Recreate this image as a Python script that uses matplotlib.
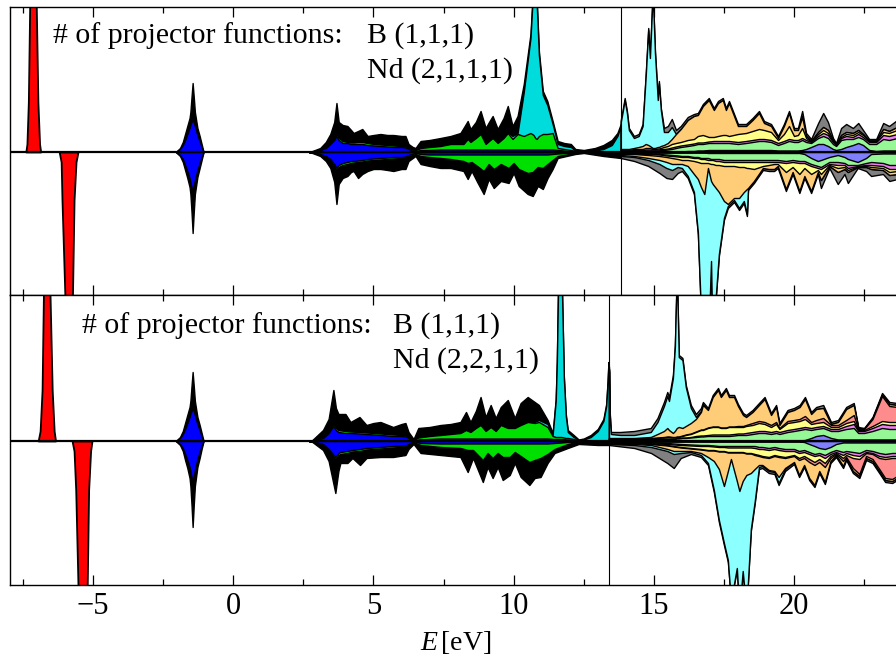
import numpy as np
import matplotlib.pyplot as plt
from matplotlib.ticker import MultipleLocator

plt.rcParams['font.family'] = ['Liberation Serif', 'DejaVu Serif']
plt.rcParams['mathtext.fontset'] = 'custom'
plt.rcParams['mathtext.rm'] = 'Liberation Serif'
plt.rcParams['mathtext.it'] = 'Liberation Serif:italic'

# Fermi levels (eV)
ef_top = 13.82
ef_bot = 13.40

# ---- top panel: B (1,1,1), Nd (2,1,1,1) ----
# Nd 5s-like peaks, spin up / spin down  [E, dos]
top_red_up = [[-7.40, 0], [-7.36, 8], [-7.31, 50], [-7.26, 150], [-7.14, 400],
              [-7.03, 150], [-6.97, 50], [-6.91, 8], [-6.87, 0]]
top_red_dn = [[-6.21, 0], [-6.14, -10], [-6.11, -48], [-6.00, -150], [-5.88, -300],
              [-5.74, -150], [-5.68, -48], [-5.61, -10], [-5.54, 0]]
# B 2s peak  [E, blue, black]
top_bs_up = [[-2.05, 0, 0], [-1.90, 3, 4], [-1.80, 7, 10], [-1.72, 12, 18], [-1.64, 18, 26],
             [-1.56, 24, 34], [-1.53, 27, 40], [-1.49, 30, 55], [-1.45, 32, 69],
             [-1.41, 30, 55], [-1.37, 26, 40], [-1.28, 17, 24], [-1.20, 11, 16],
             [-1.13, 5, 8], [-1.06, 0, 0]]
top_bs_dn = [[-2.05, 0, 0], [-1.90, -3, -4], [-1.80, -7, -10], [-1.72, -13, -18], [-1.64, -19, -26],
             [-1.56, -26, -35], [-1.53, -30, -42], [-1.49, -35, -60], [-1.45, -38, -81],
             [-1.41, -34, -60], [-1.37, -28, -42], [-1.28, -18, -25], [-1.20, -11, -16],
             [-1.13, -5, -8], [-1.06, 0, 0]]
# valence band  [E, blue, green, cyan, black] (stacked)
top_vb_up = [
    [2.70, 0, 0, 0, 0], [2.82, 0.3, 0.5, 0.5, 1], [3.10, 2, 2.5, 2.5, 4], [3.30, 4, 5, 5, 10],
    [3.46, 8, 9, 9, 18], [3.60, 12, 13, 13, 30], [3.68, 16, 18, 18, 49], [3.76, 12, 14, 14, 30],
    [3.90, 9, 11, 11, 27], [4.07, 9, 10, 10, 26], [4.20, 8, 9.5, 9.5, 22], [4.29, 8, 9.5, 9.5, 19],
    [4.45, 8, 10, 10, 21], [4.60, 8, 10, 10, 23], [4.79, 7, 9, 9, 16], [5.00, 6.5, 8, 8, 17],
    [5.25, 6, 7.5, 7.5, 18], [5.50, 5.5, 7, 7, 17], [5.71, 5, 6.5, 6.5, 17], [6.00, 5, 6, 6, 16],
    [6.14, 4.5, 5.5, 5.5, 16], [6.25, 3, 4, 4, 8], [6.40, 1.5, 2.5, 2.5, 5], [6.50, 1, 2, 2, 4],
    [6.60, 1.5, 3, 3, 8], [6.68, 2, 4, 4, 11], [7.00, 2, 5, 5, 12], [7.39, 2.5, 6, 6, 14],
    [7.75, 2.5, 8, 8, 16], [8.10, 2.5, 8, 8, 19], [8.21, 2.5, 8, 8.5, 24], [8.36, 2.5, 13, 13.5, 31],
    [8.46, 2.5, 10, 10.5, 23], [8.65, 2.5, 14, 14.5, 30], [8.82, 2.5, 18, 18.5, 41],
    [9.00, 2.5, 8, 8.5, 24], [9.12, 2.5, 11, 11.5, 30], [9.25, 2.5, 14, 14.5, 36],
    [9.43, 2.5, 9, 9.5, 23], [9.64, 2.5, 14, 15, 34], [9.79, 2.5, 19, 20, 46],
    [9.96, 2.5, 13, 16, 26], [10.14, 2.5, 18, 19, 36], [10.36, 2.5, 16, 60, 68],
    [10.60, 2.5, 19, 114, 118], [10.71, 2.5, 17, 170, 174], [10.77, 2.5, 14, 190, 194],
    [10.82, 2.5, 13, 150, 154], [10.90, 2.5, 16, 97, 101], [11.04, 2.5, 18, 57, 61],
    [11.20, 2.5, 18, 47, 51], [11.39, 2.5, 19, 28, 31], [11.57, 2, 4, 8, 11],
    [11.80, 1.5, 3, 6, 9], [12.04, 1, 2, 5, 8], [12.20, 0.5, 1, 1.5, 3], [12.50, 0.3, 0.5, 0.8, 2],
    [12.90, 0.3, 0.5, 1.5, 4], [13.20, 0.3, 0.5, 3, 7], [13.50, 0.3, 0.5, 7, 12],
    [13.70, 0.3, 0.5, 16, 19], [13.82, 0.3, 0.5, 26, 28]]
top_vb_dn = [
    [2.70, 0, 0, 0, 0], [2.82, -0.3, -0.5, -0.5, -1], [3.10, -2, -2.5, -2.5, -4], [3.30, -4, -5, -5, -9],
    [3.46, -7, -8, -8, -16], [3.60, -12, -14, -14, -30], [3.68, -16, -18, -18, -52],
    [3.76, -13, -15, -15, -32], [3.90, -11, -13, -13, -26], [4.07, -10, -12, -12, -24],
    [4.20, -9, -11, -11, -20], [4.29, -9, -10.5, -10.5, -19], [4.45, -8.5, -10, -10, -26],
    [4.60, -8, -9.5, -9.5, -22], [4.79, -7, -8.5, -8.5, -19], [5.00, -6.5, -8, -8, -17],
    [5.25, -6, -7.5, -7.5, -17], [5.50, -5.5, -7, -7, -18], [5.71, -5, -6.5, -6.5, -19],
    [6.00, -5, -6, -6, -17], [6.14, -4.5, -5.5, -5.5, -17], [6.25, -3, -4, -4, -9],
    [6.50, -1, -2, -2, -4], [6.68, -2, -4, -4, -12], [7.00, -2.5, -5, -5, -14],
    [7.39, -2.5, -6, -6, -16], [7.75, -2.5, -7, -7, -16], [8.21, -2.5, -9, -9, -19],
    [8.36, -2.5, -11, -11, -27], [8.50, -2.5, -10, -10, -19], [8.70, -2.5, -14, -14, -30],
    [8.93, -2.5, -19, -19, -42], [9.11, -2.5, -12, -12, -27], [9.29, -2.5, -17, -17, -36],
    [9.54, -2.5, -12, -12, -29], [9.82, -2.5, -16, -16, -31], [10.00, -2.5, -11, -11, -21],
    [10.18, -2.5, -17, -17, -34], [10.50, -2.5, -21, -21, -42], [10.68, -2.5, -20, -20, -44],
    [10.86, -2.5, -15, -15, -34], [11.04, -2.5, -16, -16, -37], [11.21, -2.5, -12, -12, -26],
    [11.39, -2, -8, -8, -17], [11.57, -1.5, -4, -4, -6], [12.20, -0.5, -1, -1, -2],
    [12.50, -0.3, -0.5, -0.5, -1], [13.20, -0.3, -0.5, -1, -4], [13.82, -0.3, -0.5, -1.5, -6]]
# unoccupied states  [E, lavender, green, magenta, yellow, orange, cyan, gray] (stacked)
top_cb_up = [
    [13.82, 0.5, 1, 1.5, 2, 3, 30, 32], [13.88, 0.5, 1, 1.5, 2, 3, 39, 41],
    [13.96, 0.5, 1, 1.5, 2, 3, 52, 54], [14.04, 0.5, 1, 1.5, 2, 3, 39, 41],
    [14.11, 0.5, 1, 1.5, 2, 3, 22, 24], [14.29, 0.5, 1, 2, 3, 4, 14, 16],
    [14.46, 0.5, 1, 2, 3, 5, 16, 18], [14.60, 0.5, 1.5, 2, 3, 6, 26, 28],
    [14.71, 0.5, 1.5, 2.5, 4, 8, 76, 78], [14.80, 0.5, 1.5, 2.5, 4, 7, 122, 124],
    [14.86, 0.5, 1.5, 2.5, 4, 6, 94, 96], [14.96, 0.5, 1.5, 2.5, 3, 4, 160, 162],
    [15.04, 0.5, 1.5, 2.5, 3, 4, 99, 101], [15.14, 0.5, 1.5, 2.5, 3.5, 5, 52, 54],
    [15.18, 0.5, 1.5, 2.5, 3.5, 5, 69, 71], [15.25, 0.5, 2, 3, 4, 6, 42, 44],
    [15.36, 0.5, 2, 3, 5, 7, 20, 24], [15.50, 0.5, 2.5, 3.5, 6, 9, 20, 26],
    [15.64, 0.5, 3, 4.5, 8, 13, 25, 33], [15.79, 0.5, 4, 5.5, 9, 18, 18, 22],
    [15.96, 0.5, 5, 6.5, 10, 23, 23, 26], [16.21, 1, 6, 7.5, 12, 32, 32, 35],
    [16.43, 1, 7, 8.5, 13, 36, 36, 38], [16.57, 1.5, 8, 9.5, 16, 37, 37, 39],
    [16.75, 1.5, 8, 9.5, 17, 46, 46, 48], [16.96, 2, 9, 10.5, 15, 52, 52, 54],
    [17.14, 2, 9, 11, 15, 42, 42, 44], [17.29, 2, 9, 11, 16, 49, 49, 51],
    [17.46, 2, 9, 11, 17, 52, 52, 54], [17.57, 2, 9, 11, 17, 42, 42, 44],
    [17.68, 2, 9, 11, 16, 49, 49, 51], [18.00, 2, 8, 10, 18, 26, 26, 28],
    [18.29, 2, 9, 11, 19, 26, 26, 28], [18.52, 2, 10, 12, 21, 32, 32, 34],
    [18.75, 2, 11, 13, 23, 39, 39, 41], [18.93, 2, 11, 13, 22, 29, 29, 31],
    [19.18, 2, 10, 12, 20, 26, 26, 28], [19.43, 1.5, 7, 9, 12, 14, 14, 16],
    [19.64, 1.5, 9, 11, 18, 26, 26, 28], [19.82, 1.5, 11, 13, 26, 39, 39, 41],
    [20.00, 1.5, 10, 12, 16, 22, 22, 24], [20.14, 1.5, 10, 12, 17, 22, 22, 24],
    [20.29, 2, 12, 14, 24, 35, 36, 41], [20.43, 3, 10, 12, 14, 16, 16, 19],
    [20.61, 5, 9, 10, 10.5, 11, 11, 13], [20.86, 8, 14, 16, 18, 20, 20, 29],
    [21.04, 8, 16, 19, 22, 25, 25, 39], [21.21, 6, 14, 17, 19, 22, 22, 30],
    [21.39, 3, 8, 10, 11, 12, 12, 14], [21.50, 2, 6, 7, 7.5, 8, 8, 9],
    [21.68, 3, 12, 14, 15, 17, 17, 24], [21.86, 5, 13, 16, 18, 20, 20, 28],
    [22.10, 7, 13, 15, 17, 19, 19, 24], [22.29, 9, 15, 18, 20, 22, 22, 29],
    [22.46, 7, 13, 15, 17, 18, 18, 22], [22.68, 2, 8, 10, 11, 11.5, 11.5, 13],
    [22.93, 1, 8, 10, 11, 11.5, 11.5, 13], [23.18, 1.5, 13, 17, 20, 23, 23, 29],
    [23.39, 1.5, 12, 16, 19, 21, 21, 26], [23.68, 1.5, 14, 18, 22, 25, 25, 32],
    [24.00, 1.5, 13, 17, 20, 23, 23, 30]]
top_cb_dn = [
    [13.82, 0.5, 1, 1.5, 2, 3, 4, 6], [14.30, 0.5, 1, 1.5, 2, 4, 5, 9],
    [14.80, 0.5, 1.5, 2, 3, 6, 8, 14], [15.20, 0.5, 2, 2.5, 4, 8, 12, 21],
    [15.45, 0.5, 2.5, 3.5, 5, 10, 16, 26], [15.65, 0.5, 3, 4, 6, 12, 18, 27],
    [15.85, 0.5, 3.5, 4.5, 7, 12, 15, 21], [16.00, 0.5, 4, 5, 8, 12, 16, 19],
    [16.21, 0.5, 4, 5, 8, 14, 24, 26], [16.43, 0.5, 5, 6, 9, 22, 40, 42],
    [16.57, 0.5, 5, 6, 10, 27, 80, 82], [16.68, 0.5, 6, 7, 11, 35, 160, 162],
    [16.80, 0.5, 6, 7, 11, 42, 200, 200], [16.93, 1, 6, 8, 11, 16, 200, 200],
    [17.04, 1, 7, 8, 12, 29, 109, 111], [17.10, 1, 7, 8, 12, 32, 200, 200],
    [17.21, 1, 7, 9, 13, 36, 144, 146], [17.32, 1, 7, 9, 13, 40, 102, 104],
    [17.50, 1, 8, 10, 14, 49, 66, 68], [17.64, 1, 8, 10, 14, 52, 54, 56],
    [17.86, 1, 8, 10, 14, 46, 48, 50], [18.04, 1, 8, 10, 15, 46, 56, 58],
    [18.21, 1, 8, 10, 15, 40, 49, 51], [18.32, 1, 8, 10, 16, 37, 62, 64],
    [18.36, 1, 8, 10, 16, 36, 36, 38], [18.57, 1, 8, 10, 17, 29, 29, 31],
    [18.89, 1, 8, 10, 14, 16, 16, 18], [19.10, 1, 8, 10, 13, 17, 17, 19],
    [19.29, 1, 8, 10, 12, 17, 17, 19], [19.42, 1, 8, 10, 12, 14, 14, 16],
    [19.71, 1, 9, 11, 20, 37, 37, 39], [19.95, 1, 8, 10, 15, 20, 20, 22],
    [20.19, 1, 9, 11, 22, 39, 39, 41], [20.37, 2, 9, 11, 16, 24, 24, 26],
    [20.61, 6, 12, 14, 22, 39, 39, 41], [20.85, 9, 14, 16, 18, 20, 20, 22],
    [20.96, 8, 15, 17, 22, 28, 28, 36], [21.26, 5, 10, 12, 13, 14, 14, 16],
    [21.56, 3, 10, 13, 16, 20, 20, 32], [21.80, 5, 11, 13, 15, 17, 17, 22],
    [21.92, 7, 13, 16, 18, 20, 20, 31], [22.27, 10, 13, 14, 14.5, 15, 15, 16],
    [22.57, 6, 11, 13, 14, 15, 15, 19], [22.75, 2, 10, 13, 15, 17, 17, 24],
    [23.17, 1.5, 11, 14, 16, 18, 18, 22], [23.40, 1.5, 13, 17, 20, 23, 23, 29],
    [23.68, 1.5, 13, 17, 19, 22, 22, 27], [24.00, 1.5, 12, 15, 18, 20, 20, 25]]

# ---- bottom panel: B (1,1,1), Nd (2,2,1,1) ----
bot_red_up = [[-6.96, 0], [-6.89, 10], [-6.82, 51], [-6.77, 150], [-6.66, 300],
              [-6.54, 150], [-6.46, 51], [-6.39, 10], [-6.34, 0]]
bot_red_dn = [[-5.75, 0], [-5.68, -10], [-5.62, -49], [-5.54, -144], [-5.38, -300],
              [-5.21, -144], [-5.16, -49], [-5.09, -10], [-5.04, 0]]
bot_bs_up = [[-2.05, 0, 0], [-1.90, 3, 4], [-1.80, 7, 10], [-1.72, 12, 18], [-1.64, 18, 26],
             [-1.56, 24, 34], [-1.53, 27, 40], [-1.49, 30, 55], [-1.45, 32, 69],
             [-1.41, 30, 55], [-1.37, 26, 40], [-1.28, 17, 24], [-1.20, 11, 16],
             [-1.13, 5, 8], [-1.06, 0, 0]]
bot_bs_dn = [[-2.05, 0, 0], [-1.90, -3, -4], [-1.80, -7, -10], [-1.72, -13, -19], [-1.64, -19, -27],
             [-1.56, -26, -37], [-1.53, -30, -45], [-1.49, -36, -64], [-1.45, -40, -86],
             [-1.41, -35, -64], [-1.37, -29, -45], [-1.28, -18, -26], [-1.20, -11, -17],
             [-1.13, -5, -8], [-1.06, 0, 0]]
bot_vb_up = [
    [2.70, 0, 0, 0, 0], [2.82, 0.3, 0.5, 0.5, 1], [3.20, 3, 4, 4, 11], [3.40, 8, 9, 9, 22],
    [3.57, 15, 17, 17, 51], [3.66, 11, 13, 13, 33], [3.75, 9, 11, 11, 27], [4.00, 8, 10, 10, 27],
    [4.18, 8, 9.5, 9.5, 19], [4.50, 7.5, 9, 9, 24], [4.75, 7, 8.5, 8.5, 16], [5.00, 6.5, 8, 8, 18],
    [5.25, 6, 7.5, 7.5, 19], [5.70, 5, 6.5, 6.5, 14], [6.00, 5, 6, 6, 17], [6.14, 4.5, 5.5, 5.5, 18],
    [6.25, 3, 4, 4, 9], [6.43, 0.5, 1, 1, 2], [6.60, 1.5, 3.5, 3.5, 13], [7.00, 2, 5, 5, 14],
    [7.39, 2.5, 6, 6, 16], [7.75, 2.5, 7, 7, 17], [8.10, 2.5, 8, 8, 19], [8.30, 2.5, 11, 11, 29],
    [8.46, 2.5, 9, 9, 19], [8.65, 2.5, 13, 13, 30], [8.82, 2.5, 16, 16, 44], [9.00, 2.5, 10, 10, 24],
    [9.18, 2.5, 14, 14, 36], [9.36, 2.5, 10, 10, 23], [9.54, 2.5, 16, 16, 34],
    [9.79, 2.5, 13, 13.5, 41], [10.04, 2.5, 13, 13.5, 23], [10.25, 2.5, 16, 16.5, 38],
    [10.50, 2.5, 19, 19.5, 44], [10.75, 2.5, 18, 19, 39], [10.90, 2.5, 19, 21, 36],
    [11.21, 2.5, 14, 17, 21], [11.39, 2, 5, 6, 8], [11.50, 2, 4, 40, 42], [11.54, 2, 4, 78, 80],
    [11.60, 2, 4, 180, 182], [11.70, 2, 4, 180, 182], [11.79, 2, 3.5, 63, 65],
    [11.86, 1.5, 3, 25, 27], [11.93, 1.5, 3, 9, 11], [12.14, 1, 2, 4, 6],
    [12.32, 0.3, 0.5, 0.8, 1.5], [12.50, 0.3, 0.5, 1.5, 2.5], [12.75, 0.3, 0.5, 4, 6],
    [13.00, 0.3, 0.5, 10, 12], [13.20, 0.3, 0.5, 20, 22], [13.30, 0.3, 0.5, 35, 37],
    [13.35, 0.3, 0.5, 58, 60], [13.38, 0.3, 0.5, 77, 79], [13.40, 0.3, 0.5, 72, 74]]
bot_vb_dn = [
    [2.70, 0, 0, 0, 0], [2.82, -0.3, -0.5, -0.5, -1], [3.20, -3, -4, -4, -9], [3.40, -8, -9, -9, -20],
    [3.64, -16, -18, -18, -52], [3.75, -12, -14, -14, -30], [3.82, -11, -13, -13, -22],
    [4.07, -10, -12, -12, -22], [4.25, -9, -10.5, -10.5, -17], [4.52, -8, -10, -10, -24],
    [4.75, -7, -8.5, -8.5, -17], [5.25, -6, -7.5, -7.5, -16], [5.70, -5, -6.5, -6.5, -16],
    [6.14, -4.5, -5.5, -5.5, -14], [6.25, -3, -4, -4, -8], [6.43, -0.5, -1, -1, -3],
    [6.68, -2, -4, -4, -12], [7.39, -2.5, -6, -6, -14], [8.10, -2.5, -7, -7, -16],
    [8.36, -2.5, -9, -9, -31], [8.55, -2.5, -9, -9, -17], [8.90, -2.5, -19, -19, -41],
    [9.07, -2.5, -12, -12, -26], [9.25, -2.5, -17, -17, -37], [9.43, -2.5, -12, -12, -26],
    [9.61, -2.5, -16, -16, -39], [9.86, -2.5, -16, -16, -34], [10.04, -2.5, -11, -11, -22],
    [10.25, -2.5, -15, -15, -36], [10.56, -2.5, -21, -21, -44], [10.75, -2.5, -19, -19, -37],
    [10.96, -2.5, -17, -17, -36], [11.21, -2.5, -13, -13, -22], [11.46, -2, -8, -8, -12],
    [11.93, -1, -3, -3, -7], [12.32, -0.3, -0.5, -1, -3], [13.00, -0.3, -0.5, -1.5, -4],
    [13.40, -0.3, -0.5, -2, -4]]
# [E, lavender, green, magenta, yellow, salmon, orange, cyan, gray] (stacked)
bot_cb_up = [
    [13.40, 0.5, 1, 1.5, 2, 2.5, 3, 70, 72], [13.43, 0.5, 1, 1.5, 2, 2.5, 3, 25, 27],
    [13.47, 0.5, 1, 1.5, 2, 2.5, 3, 7, 9], [13.80, 0.5, 1, 1.5, 2, 2.5, 3, 6, 9],
    [14.30, 0.5, 1, 1.5, 2, 2.5, 3, 6, 10], [14.89, 0.5, 1.5, 2, 2.5, 3, 4, 9, 13],
    [15.13, 0.5, 2, 2.5, 3, 3.5, 7, 19, 23], [15.36, 0.5, 2, 2.5, 3.5, 4, 10, 35, 39],
    [15.48, 0.5, 2, 2.5, 4, 4.5, 13, 45, 49], [15.54, 0.5, 2, 2.5, 4, 4.5, 11, 40, 44],
    [15.68, 0.5, 2, 2.5, 3.5, 4, 8, 63, 66], [15.75, 0.5, 2, 2.5, 3.5, 4, 10, 94, 96],
    [15.82, 0.5, 2.5, 3, 4, 4.5, 13, 170, 170], [15.89, 0.5, 2.5, 3, 4, 4.5, 14, 84, 86],
    [16.02, 0.5, 3, 3.5, 5, 5.5, 13, 81, 83], [16.14, 0.5, 3, 3.5, 6, 6.5, 15, 54, 56],
    [16.32, 0.5, 3.5, 4, 7, 7.5, 18, 33, 36], [16.50, 0.5, 4, 5, 9, 9.5, 22, 24, 27],
    [16.68, 0.5, 4.5, 5.5, 11, 11.5, 29, 30, 33], [16.75, 0.5, 4.5, 5.5, 11, 11.5, 36, 37, 39],
    [16.93, 0.5, 5, 6, 13, 13.5, 31, 31, 33], [17.10, 0.5, 5, 6.5, 14, 14.5, 44, 44, 46],
    [17.29, 0.5, 5, 6.5, 14, 14.5, 51, 51, 53], [17.39, 0.5, 5, 6.5, 13, 13.5, 44, 44, 46],
    [17.57, 0.5, 5, 6.5, 13, 13.5, 51, 51, 53], [17.68, 0.5, 5, 6.5, 14, 14.5, 44, 44, 46],
    [17.86, 0.5, 5.5, 7, 14, 14.5, 44, 44, 46], [18.00, 0.5, 6, 7.5, 14, 15, 35, 35, 37],
    [18.18, 0.5, 6, 7.5, 14, 15, 26, 26, 28], [18.29, 0.5, 6, 8, 15, 16, 24, 24, 26],
    [18.52, 0.5, 7, 9, 16, 18, 29, 29, 31], [18.75, 0.5, 8, 10, 18, 20, 36, 36, 38],
    [18.95, 0.5, 8, 10, 17, 19, 42, 42, 44], [19.18, 0.5, 7, 9, 14, 16, 26, 26, 28],
    [19.36, 0.5, 8, 10, 17, 19, 34, 34, 36], [19.48, 0.5, 7, 9, 12, 13, 16, 16, 18],
    [19.77, 0.5, 9, 11, 18, 20, 29, 29, 31], [20.00, 0.5, 10, 12, 19, 21, 31, 31, 33],
    [20.20, 0.5, 11, 13, 20, 22, 34, 34, 36], [20.39, 1, 12, 14, 22, 25, 42, 42, 44],
    [20.61, 3, 11, 13, 17, 19, 27, 27, 29], [20.79, 5, 12, 14, 18, 21, 32, 32, 34],
    [21.04, 6, 13, 15, 19, 23, 33, 33, 36], [21.32, 3, 10, 12, 14, 16, 17, 17, 19],
    [21.57, 1.5, 10, 12, 14, 16, 19, 19, 21], [21.86, 1.5, 12, 15, 18, 21, 32, 32, 34],
    [22.13, 1.5, 13, 17, 20, 26, 36, 36, 38], [22.29, 1.5, 8, 10, 11, 12, 13, 13, 14],
    [22.50, 1.5, 8, 10, 11, 12, 12.5, 12.5, 13], [22.80, 1.5, 10, 13, 15, 22, 23, 23, 24],
    [23.14, 1.5, 13, 17, 20, 45, 46.5, 46.5, 48], [23.40, 1.5, 12, 16, 19, 35, 37, 37, 39],
    [23.68, 1.5, 12, 16, 19, 34, 36, 36, 38], [24.00, 1.5, 12, 15, 18, 32, 34, 34, 36]]
bot_cb_dn = [
    [13.40, 0.5, 1, 1.5, 2, 2.2, 2.5, 3, 4], [14.30, 0.5, 1, 1.5, 2, 2.2, 3, 4, 7],
    [14.90, 0.5, 1.5, 2, 2.5, 3, 4, 6, 12], [15.48, 0.5, 2, 3, 4, 4.5, 8, 10, 22],
    [15.71, 0.5, 2.5, 3.5, 5, 5.5, 10, 13, 27], [15.96, 0.5, 3, 4, 6, 6.5, 10, 12, 17],
    [16.32, 0.5, 3.5, 4.5, 7, 7.5, 10, 11, 13], [16.68, 0.5, 4, 5, 8, 8.5, 12, 14, 16],
    [16.93, 0.5, 4, 5, 9, 9.5, 16, 22, 24], [17.14, 0.5, 4.5, 5.5, 9, 9.5, 20, 49, 51],
    [17.32, 0.5, 5, 6, 10, 10.5, 28, 79, 81], [17.50, 0.5, 5, 6, 10, 10.5, 45, 102, 104],
    [17.64, 0.5, 5, 6.5, 11, 11.5, 30, 119, 121], [17.75, 0.5, 5, 6.5, 11, 11.5, 18, 160, 160],
    [17.96, 0.5, 5, 6.5, 11, 11.5, 40, 127, 129], [18.05, 0.5, 5, 6.5, 11, 11.5, 50, 170, 170],
    [18.17, 0.5, 5, 6.5, 11, 11.5, 40, 130, 132], [18.30, 0.5, 5, 6.5, 12, 12.5, 34, 170, 170],
    [18.46, 0.5, 5, 6.5, 12, 12.5, 32, 88, 90], [18.60, 0.5, 5, 7, 13, 14, 28, 60, 62],
    [18.75, 0.5, 6, 8, 14, 15, 24, 26, 28], [18.87, 0.5, 6, 8, 15, 16, 24, 25, 27],
    [19.10, 0.5, 7, 9, 16, 17, 29, 30, 32], [19.30, 0.5, 6, 8, 14, 15, 30, 31, 33],
    [19.45, 0.5, 7, 9, 15, 16, 36, 42, 44], [19.68, 0.5, 8, 10, 16, 17, 27, 28, 30],
    [20.00, 0.5, 8, 10, 14, 15, 21, 21, 23], [20.18, 0.5, 10, 12, 17, 19, 34, 34, 36],
    [20.36, 1, 9, 11, 15, 17, 24, 24, 26], [20.54, 3, 11, 13, 18, 21, 37, 37, 39],
    [20.73, 5, 13, 15, 21, 24, 44, 44, 46], [20.90, 7, 12, 14, 18, 21, 30, 30, 32],
    [21.10, 8, 14, 17, 22, 26, 41, 41, 43], [21.30, 6, 11, 13, 15, 17, 20, 20, 22],
    [21.50, 3, 9, 11, 12, 13, 14, 14, 16], [21.75, 1.5, 11, 14, 17, 20, 25, 25, 27],
    [21.86, 1.5, 10, 12, 14, 16, 17, 17, 19], [22.10, 1.5, 11, 14, 17, 27, 30, 30, 32],
    [22.33, 1.5, 12, 15, 18, 33, 35, 35, 37], [22.57, 1.5, 9, 11, 12, 15, 17, 17, 19],
    [22.80, 1.5, 10, 12, 13, 18, 20, 20, 22], [23.04, 1.5, 12, 15, 17, 28, 30, 30, 32],
    [23.25, 1.5, 13, 16, 18, 37, 39, 39, 41], [23.50, 1.5, 12, 15, 17, 38, 40, 40, 42],
    [23.68, 1.5, 12, 15, 17, 35, 37, 37, 39], [24.00, 1.5, 11, 14, 16, 33, 35, 35, 37]]

red = ['#ff0000']
bs_cols = ['#0000ff', '#000000']
vb_cols = ['#0000ff', '#00e000', '#00dcdc', '#000000']
cb_cols_top = ['#8080ff', '#96f796', '#f080f0', '#ffff88', '#ffcc77', '#8cffff', '#808080']
cb_cols_bot = ['#8080ff', '#96f796', '#f080f0', '#ffff88', '#ff8c8c', '#ffcc77', '#8cffff', '#808080']


def draw_stack(ax, table, colors, lw=1.0, sign=1):
    t = np.asarray(table, dtype=float)
    e = t[:, 0]
    # outermost layer first, inner layers are painted over it
    for k in range(t.shape[1] - 1, 0, -1):
        ax.fill_between(e, 0, sign * t[:, k], facecolor=colors[k - 1],
                        edgecolor='k', linewidth=lw)


fig = plt.figure(figsize=(8.96, 6.61), dpi=100)
W, H = 896.0, 661.0
x0 = 10.4 / W
w = 921.0 / W
ax1 = fig.add_axes([x0, (H - 295) / H, w, 288 / H])
ax2 = fig.add_axes([x0, (H - 585) / H, w, 290 / H])

panels = [
    (ax1, top_red_up, top_red_dn, top_bs_up, top_bs_dn, top_vb_up, top_vb_dn,
     top_cb_up, top_cb_dn, cb_cols_top, ef_top, (-143, 145)),
    (ax2, bot_red_up, bot_red_dn, bot_bs_up, bot_bs_dn, bot_vb_up, bot_vb_dn,
     bot_cb_up, bot_cb_dn, cb_cols_bot, ef_bot, (-144, 146)),
]

for (ax, rup, rdn, bup, bdn, vup, vdn, cup, cdn, ccols, ef, ylim) in panels:
    draw_stack(ax, rup, red, lw=1.3)
    draw_stack(ax, rdn, red, lw=1.3)
    draw_stack(ax, bup, bs_cols)
    draw_stack(ax, bdn, bs_cols)
    draw_stack(ax, vup, vb_cols)
    draw_stack(ax, vdn, vb_cols)
    draw_stack(ax, cup, ccols)
    draw_stack(ax, cdn, ccols, sign=-1)
    ax.axhline(0, color='k', lw=1.6, zorder=5)
    ax.axvline(ef, color='k', lw=0.8, zorder=5)

    ax.set_xlim(-7.95, 24.9)
    ax.set_ylim(*ylim)
    ax.set_yticks([])
    ax.xaxis.set_major_locator(MultipleLocator(5))
    ax.xaxis.set_minor_locator(MultipleLocator(2.5))
    ax.tick_params(axis='x', which='both', direction='in', top=True, bottom=True,
                   labelbottom=False, labelsize=22, pad=5)
    ax.tick_params(axis='x', which='major', length=7, width=0.9)
    ax.tick_params(axis='x', which='minor', length=4.5, width=0.9)
    for s in ax.spines.values():
        s.set_linewidth(1.0)

ax2.tick_params(axis='x', which='both', labelbottom=True)

fs = 21.5
fig.text(53 / W, 1 - 43 / H, '# of projector functions:', fontsize=fs, va='baseline')
fig.text(367 / W, 1 - 43 / H, 'B (1,1,1)', fontsize=fs, va='baseline')
fig.text(367 / W, 1 - 78 / H, 'Nd (2,1,1,1)', fontsize=fs, va='baseline')
fig.text(82 / W, 1 - 333 / H, '# of projector functions:', fontsize=fs, va='baseline')
fig.text(393 / W, 1 - 333 / H, 'B (1,1,1)', fontsize=fs, va='baseline')
fig.text(393 / W, 1 - 368 / H, 'Nd (2,2,1,1)', fontsize=fs, va='baseline')

fig.text(456 / W, 1 - 643 / H, r'$E\,$[eV]', fontsize=20, ha='center', va='center')

fig.savefig('out.png', dpi=100)
